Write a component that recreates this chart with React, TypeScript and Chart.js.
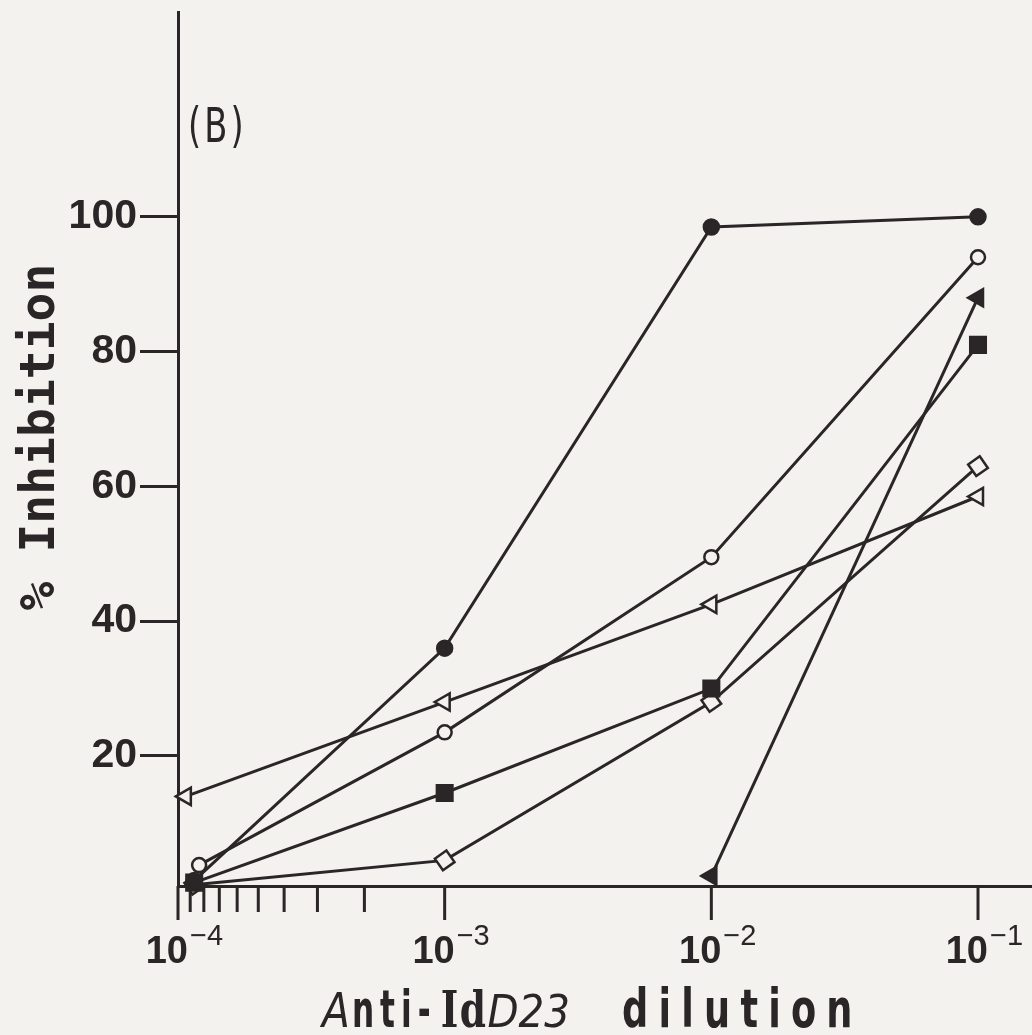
import React, { useEffect, useRef } from "react";
import { Chart, registerables } from "chart.js";

Chart.register(...registerables);

const INK = "#2a2526";
const PAPER = "#f3f2ee";

// dilution (x) values
const dilutions = [1.15e-4, 1e-3, 1e-2, 1e-1];
const openCircleDilutions = [1.2e-4, 1e-3, 1e-2, 1e-1];
const openTriangleDilutions = [1.07e-4, 1e-3, 1e-2, 1e-1];

// % inhibition per series
const filledCircle = [1.5, 36, 98.5, 100];
const openCircle = [3.8, 23.5, 49.5, 94];
const openTriangle = [14, 28, 42.5, 58.5];
const filledSquare = [1.2, 14.5, 30, 81];
const openDiamond = [0.9, 4.5, 28, 63];
const filledTriangle = [null, null, 2.2, 88];

// axis ticks
const majorTicks = [1e-4, 1e-3, 1e-2, 1e-1];
const majorExponents = ["\u22124", "\u22123", "\u22122", "\u22121"];
const minorTicks = [1e-3 / 9, 1e-3 / 8, 1e-3 / 7, 1e-3 / 6, 1e-3 / 5, 1e-3 / 4, 1e-3 / 3, 1e-3 / 2];
const yTicks = [20, 40, 60, 80, 100];

const yTitle = "% Inhibition";
const panelLabel = "(B)";

function pts(xs: number[], ys: (number | null)[]) {
  return xs.map((x, i) => ({ x, y: ys[i] }));
}

function seg(ctx: CanvasRenderingContext2D, text: string, font: string, sx: number, ls: number, x: number, y: number) {
  ctx.save();
  ctx.font = font;
  (ctx as any).letterSpacing = ls + "px";
  ctx.textAlign = "left";
  ctx.textBaseline = "alphabetic";
  const w = ctx.measureText(text).width * sx;
  ctx.translate(x, y);
  ctx.scale(sx, 1);
  ctx.fillText(text, 0, 0);
  ctx.restore();
  return x + w;
}

const decor = {
  id: "decor",
  afterDraw(chart: any) {
    const ctx: CanvasRenderingContext2D = chart.ctx;
    const xs = chart.scales.x;
    const bottom = chart.chartArea.bottom;
    ctx.save();
    ctx.strokeStyle = INK;
    ctx.fillStyle = INK;
    ctx.lineWidth = 3;
    // x tick marks
    majorTicks.forEach((v) => {
      const px = xs.getPixelForValue(v);
      ctx.beginPath();
      ctx.moveTo(px, bottom);
      ctx.lineTo(px, bottom + 34);
      ctx.stroke();
    });
    minorTicks.forEach((v) => {
      const px = xs.getPixelForValue(v);
      ctx.beginPath();
      ctx.moveTo(px, bottom);
      ctx.lineTo(px, bottom + 26);
      ctx.stroke();
    });
    // x tick labels with superscript exponents
    majorTicks.forEach((v, i) => {
      const px = xs.getPixelForValue(v);
      ctx.font = "bold 38px 'Liberation Sans'";
      ctx.textAlign = "right";
      ctx.textBaseline = "alphabetic";
      ctx.fillText("10", px + 10, 963);
      ctx.font = "29px 'Liberation Sans'";
      ctx.textAlign = "left";
      ctx.fillText(majorExponents[i], px + 12, 945);
    });
    // y title
    ctx.save();
    ctx.translate(42, 437);
    ctx.rotate(-Math.PI / 2);
    ctx.font = "bold 48px 'DejaVu Sans Mono'";
    ctx.textAlign = "center";
    ctx.textBaseline = "middle";
    ctx.fillText(yTitle, 0, 0);
    ctx.restore();
    // x title (mixed styles)
    let x = 322;
    const by = 1027;
    x = seg(ctx, "A", "italic 48px 'DejaVu Sans'", 0.85, 0, x, by);
    x = seg(ctx, "nti-", "bold 52px 'DejaVu Sans'", 0.6, 10, x + 2, by);
    x = seg(ctx, "Id", "bold 50px 'DejaVu Serif'", 0.75, 2, x + 4, by);
    x = seg(ctx, "D23", "italic 44px 'DejaVu Sans'", 0.92, 0, x, by);
    seg(ctx, "dilution", "bold 54px 'DejaVu Sans'", 0.68, 15, 622, by);
    // panel label
    seg(ctx, panelLabel, "48px 'DejaVu Sans Condensed'", 0.78, 4, 188, 142);
    ctx.restore();
  },
};

export default function App() {
  const ref = useRef<HTMLCanvasElement | null>(null);
  useEffect(() => {
    if (!ref.current) return;
    const common = {
      borderColor: INK,
      borderWidth: 3,
      pointBorderColor: INK,
      pointBorderWidth: 2.5,
      showLine: true,
      clip: false as any,
      tension: 0,
    };
    const chart = new Chart(ref.current, {
      type: "scatter",
      data: {
        datasets: [
          { ...common, label: "filled circle", data: pts(dilutions, filledCircle), pointStyle: "circle", pointRadius: 7.5, pointBackgroundColor: INK },
          { ...common, label: "open circle", data: pts(openCircleDilutions, openCircle), pointStyle: "circle", pointRadius: 7, pointBackgroundColor: PAPER },
          { ...common, label: "open triangle", data: pts(openTriangleDilutions, openTriangle), pointStyle: "triangle", pointRotation: -90, pointRadius: 10, pointBackgroundColor: PAPER },
          { ...common, label: "filled square", data: pts(dilutions, filledSquare), pointStyle: "rect", pointRadius: 11, pointBackgroundColor: INK },
          { ...common, label: "open diamond", data: pts(dilutions, openDiamond), pointStyle: "rectRot", pointRotation: 10, pointRadius: 10, pointBackgroundColor: PAPER },
          { ...common, label: "filled triangle", data: pts(dilutions, filledTriangle), pointStyle: "triangle", pointRotation: -90, pointRadius: 10, pointBackgroundColor: INK },
        ] as any,
      },
      options: {
        animation: false,
        responsive: true,
        maintainAspectRatio: false,
        layout: { autoPadding: false, padding: { top: 12, left: 0, right: 0, bottom: 0 } },
        plugins: { legend: { display: false }, tooltip: { enabled: false } },
        scales: {
          x: {
            type: "logarithmic",
            min: 1e-4,
            max: 0.1594,
            afterBuildTicks: (s: any) => {
              s.ticks = majorTicks.map((v) => ({ value: v }));
            },
            afterFit: (s: any) => {
              s.height = 149;
              s.paddingLeft = 0;
              s.paddingRight = 0;
            },
            ticks: { display: false },
            grid: { display: true, drawOnChartArea: false, drawTicks: false, color: INK },
            border: { display: true, color: INK, width: 3 },
          },
          y: {
            type: "linear",
            min: 0.7,
            max: 130.4,
            afterBuildTicks: (s: any) => {
              s.ticks = yTicks.map((v) => ({ value: v }));
            },
            afterFit: (s: any) => {
              s.width = 178;
              s.paddingTop = 0;
              s.paddingBottom = 0;
            },
            ticks: {
              color: INK,
              padding: 3,
              font: { family: "'Liberation Sans'", weight: "bold", size: 41 },
            },
            grid: { drawOnChartArea: false, drawTicks: true, tickLength: 38, tickWidth: 3, tickColor: INK, color: INK },
            border: { display: true, color: INK, width: 3 },
          },
        },
      } as any,
      plugins: [decor],
    });
    return () => chart.destroy();
  }, []);
  return (
    <div style={{ position: "fixed", left: 0, top: 0, width: 1032, height: 1035, background: PAPER }}>
      <canvas ref={ref} />
    </div>
  );
}
